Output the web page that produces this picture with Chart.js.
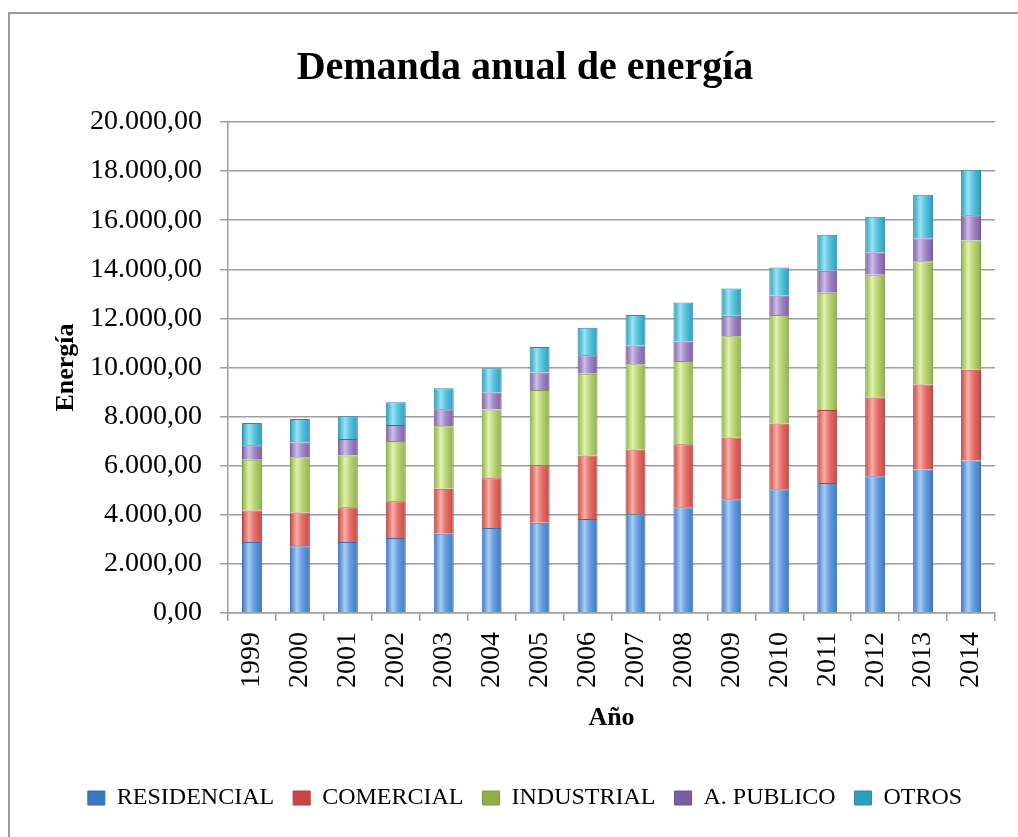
<!DOCTYPE html>
<html>
<head>
<meta charset="utf-8">
<script src="https://cdn.jsdelivr.net/npm/chart.js@4.4.1/dist/chart.umd.min.js"></script>
<style>
  html, body { margin: 0; padding: 0; background: #fff; overflow: hidden; }
  #frame { position: absolute; left: 8px; top: 12px; width: 1030px; height: 850px;
           border-left: 2px solid #9a9a9a; border-top: 2px solid #9a9a9a; background: #fff; }
  canvas { display: block; }
</style>
</head>
<body>
<div id="frame"><canvas id="c" width="1030" height="840"></canvas></div>
<script>
const years = ['1999','2000','2001','2002','2003','2004','2005','2006','2007','2008','2009','2010','2011','2012','2013','2014'];
const residencial = [2890, 2720, 2890, 3050, 3230, 3460, 3680, 3830, 4020, 4310, 4630, 5040, 5300, 5570, 5850, 6210];
const comercial   = [1290, 1370, 1420, 1500, 1830, 2030, 2340, 2590, 2640, 2560, 2520, 2680, 2970, 3210, 3460, 3700];
const industrial  = [2060, 2250, 2110, 2460, 2550, 2800, 3060, 3330, 3470, 3390, 4120, 4420, 4770, 5000, 5020, 5260];
const aPublico    = [ 590,  610,  670,  650,  690,  690,  720,  750,  770,  800,  840,  790,  900,  900,  920, 1030];
const otros       = [ 910,  950,  920,  920,  850,  990, 1040, 1120, 1240, 1590, 1110, 1140, 1470, 1460, 1790, 1850];
const seriesNames = ['RESIDENCIAL', 'COMERCIAL', 'INDUSTRIAL', 'A. PUBLICO', 'OTROS'];
const yTickValues = [0, 2000, 4000, 6000, 8000, 10000, 12000, 14000, 16000, 18000, 20000];

const palettes = [
  { dark: '#3a78c0', mid: '#68a0e2', light: '#a8ccf5', edge: '#3a6ea8' },
  { dark: '#c94642', mid: '#e8716d', light: '#f7aeaa', edge: '#a8403d' },
  { dark: '#8fb046', mid: '#bcd67c', light: '#e0f3aa', edge: '#7f9a44' },
  { dark: '#7a5ea3', mid: '#a38ac8', light: '#cfbce8', edge: '#6a5490' },
  { dark: '#2b9dbd', mid: '#5bc4de', light: '#98e3f4', edge: '#2c8aa6' }
];

const CAT_PCT = 0.8, BAR_PCT = 0.52;

function barFill(p) {
  return (ctx) => {
    const chart = ctx.chart;
    const xs = chart.scales && chart.scales.x;
    if (ctx.type !== 'data' || !xs) return p.mid;
    const cx = xs.getPixelForValue(ctx.dataIndex);
    const half = (xs.width / years.length) * CAT_PCT * BAR_PCT / 2;
    if (!isFinite(cx) || !isFinite(half) || half <= 0) return p.mid;
    const g = chart.ctx.createLinearGradient(cx - half, 0, cx + half, 0);
    g.addColorStop(0, p.dark);
    g.addColorStop(0.35, p.light);
    g.addColorStop(0.6, p.mid);
    g.addColorStop(1, p.dark);
    return g;
  };
}

function fmt(v) {
  const s = Math.round(v).toString().replace(/\B(?=(\d{3})+(?!\d))/g, '.');
  return s + ',00';
}

const seriesData = [residencial, comercial, industrial, aPublico, otros];
const datasets = seriesData.map((d, i) => ({
  label: seriesNames[i],
  data: d,
  backgroundColor: barFill(palettes[i]),
  borderColor: palettes[i].edge,
  borderWidth: 1,
  categoryPercentage: CAT_PCT,
  barPercentage: BAR_PCT
}));

const FONT = "'Liberation Serif', 'Times New Roman', serif";
const GRID = '#9e9e9e';

new Chart(document.getElementById('c'), {
  type: 'bar',
  data: { labels: years, datasets },
  options: {
    responsive: false,
    animation: false,
    layout: { padding: { left: 0, right: 0, top: 0, bottom: 34 } },
    plugins: {
      title: {
        display: true,
        text: 'Demanda anual de energía',
        color: '#000',
        font: { family: FONT, size: 40, weight: 'bold' },
        padding: { top: 31, bottom: 29 }
      },
      legend: {
        position: 'bottom',
        labels: {
          color: '#000',
          font: { family: FONT, size: 24 },
          boxWidth: 17,
          boxHeight: 14,
          padding: 19
        }
      },
      tooltip: { enabled: false }
    },
    scales: {
      x: {
        stacked: true,
        grid: { display: true, drawOnChartArea: false, drawTicks: true, tickLength: 8, color: GRID, lineWidth: 1.5 },
        border: { display: true, color: GRID, width: 1.5 },
        ticks: { color: '#000', font: { family: FONT, size: 28 }, minRotation: 90, maxRotation: 90, autoSkip: false, padding: 11 },
        title: { display: true, text: 'Año', color: '#000', font: { family: FONT, size: 26, weight: 'bold' }, padding: { top: 0, bottom: 33 } },
        afterFit: (s) => { s.height = 154; }
      },
      y: {
        stacked: true,
        min: 0,
        max: 20000,
        afterBuildTicks: (s) => { s.ticks = yTickValues.map(v => ({ value: v })); },
        grid: { color: GRID, lineWidth: 1.5, drawTicks: true, tickLength: 8 },
        border: { display: true, color: GRID, width: 1.5 },
        ticks: { color: '#000', font: { family: FONT, size: 28 }, padding: 18, callback: (v) => fmt(v) },
        title: { display: true, text: 'Energía', color: '#000', font: { family: FONT, size: 26, weight: 'bold' }, padding: { top: 41, bottom: 0 } },
        afterFit: (s) => { s.width = 218; }
      },
      yRightSpace: {
        type: 'linear',
        position: 'right',
        display: true,
        grid: { display: false, drawTicks: false },
        border: { display: false },
        ticks: { display: false },
        afterFit: (s) => { s.width = 45; }
      }
    }
  }
});
</script>
</body>
</html>
